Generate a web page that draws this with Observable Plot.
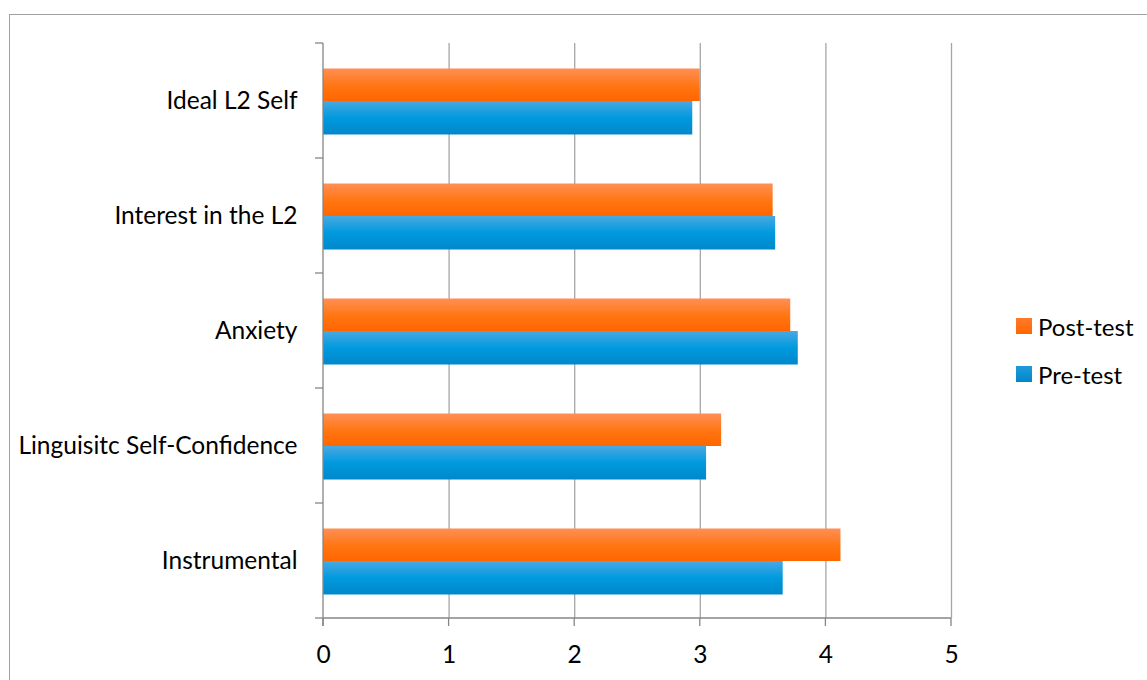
<!DOCTYPE html>
<html><head><meta charset="utf-8">
<script src="https://cdn.jsdelivr.net/npm/d3@7"></script>
<script src="https://cdn.jsdelivr.net/npm/@observablehq/plot@0.6"></script>
<style>
body{margin:0;background:#fff;}
#wrap{position:relative;width:1147px;height:680px;overflow:hidden;font-family:Lato,sans-serif;background:#fff;}
#border{position:absolute;left:9px;top:14px;width:1300px;height:900px;border:1px solid #a0a0a0;}
#chart{position:absolute;left:0;top:0;}
.item{position:absolute;left:1016px;height:26px;display:flex;align-items:center;font-size:24px;color:#000;white-space:nowrap;}
.sw{width:16px;height:16px;margin-right:6px;}
</style></head><body>
<div id="wrap"><div id="border"></div><div id="chart"></div><div id="legend"></div></div>
<script>
const categories = ["Ideal L2 Self","Interest in the L2","Anxiety","Linguisitc Self-Confidence","Instrumental"];
const preTest  = [2.94, 3.60, 3.78, 3.05, 3.66];
const postTest = [3.00, 3.58, 3.72, 3.17, 4.12];
const seriesNames = ["Post-test","Pre-test"];
const xTicks = [0,1,2,3,4,5];

const postRows = categories.map((c,i)=>({category:c, series:"Post-test", value:postTest[i]}));
const preRows  = categories.map((c,i)=>({category:c, series:"Pre-test", value:preTest[i]}));

const defsMark = () => {
  const defs = d3.create("svg:defs");
  const g1 = defs.append("linearGradient").attr("id","gPost").attr("x1",0).attr("y1",0).attr("x2",0).attr("y2",1);
  g1.append("stop").attr("offset","0%").attr("stop-color","#ff8f55");
  g1.append("stop").attr("offset","55%").attr("stop-color","#ff7510");
  g1.append("stop").attr("offset","100%").attr("stop-color","#ff6600");
  const g2 = defs.append("linearGradient").attr("id","gPre").attr("x1",0).attr("y1",0).attr("x2",0).attr("y2",1);
  g2.append("stop").attr("offset","0%").attr("stop-color","#4aa8e2");
  g2.append("stop").attr("offset","50%").attr("stop-color","#009ade");
  g2.append("stop").attr("offset","100%").attr("stop-color","#0088ca");
  return defs.node();
};

const axesMark = (index, scales) => {
  const x = scales.x, y = scales.y;
  const bw = typeof y.bandwidth === "function" ? y.bandwidth() : y.bandwidth;
  const x0 = x(xTicks[0]), x1 = x(xTicks[xTicks.length-1]);
  const top = y(categories[0]);
  const bottom = y(categories[categories.length-1]) + bw;
  const g = d3.create("svg:g").attr("stroke","#868686").attr("stroke-width",1.3).attr("fill","none");
  const bounds = categories.map(c => y(c)).concat([bottom]);
  for (const b of bounds) g.append("line").attr("x1",x0-8).attr("x2",x0).attr("y1",b).attr("y2",b);
  g.append("line").attr("x1",x0).attr("x2",x0).attr("y1",top).attr("y2",bottom+8);
  g.append("line").attr("x1",x0).attr("x2",x1).attr("y1",bottom).attr("y2",bottom);
  for (const t of xTicks) g.append("line").attr("x1",x(t)).attr("x2",x(t)).attr("y1",bottom).attr("y2",bottom+8);
  return g.node();
};

const chart = Plot.plot({
  width: 1147,
  height: 680,
  marginLeft: 323,
  marginRight: 196,
  marginTop: 43,
  marginBottom: 62,
  style: {fontFamily: "Lato, sans-serif", fontSize: "24.5px", color: "#000", background: "transparent", overflow: "visible"},
  x: {domain: [0,5], ticks: xTicks, tickFormat: d => String(d), tickSize: 0, tickPadding: 27, label: null},
  y: {domain: categories, padding: 0, tickSize: 0, tickPadding: 26, label: null},
  marks: [
    defsMark,
    Plot.ruleX(xTicks.slice(1), {x: d => d, stroke: "#a6a6a6", strokeWidth: 1.3}),
    Plot.barX(postRows, {x: "value", y: "category", fill: "url(#gPost)", insetTop: 25.5, insetBottom: 57}),
    Plot.barX(preRows, {x: "value", y: "category", fill: "url(#gPre)", insetTop: 58, insetBottom: 23.5}),
    axesMark
  ]
});
document.getElementById("chart").appendChild(chart);

const legendColors = {"Post-test": "linear-gradient(#ff7a2a,#ff6600)", "Pre-test": "linear-gradient(#1d9bdc,#0088ca)"};
const legendTops = {"Post-test": 313, "Pre-test": 361};
const leg = document.getElementById("legend");
for (const s of seriesNames) {
  const it = document.createElement("div");
  it.className = "item";
  it.style.top = legendTops[s] + "px";
  it.innerHTML = `<div class="sw" style="background:${legendColors[s]}"></div><span>${s}</span>`;
  leg.appendChild(it);
}
</script>
</body></html>
